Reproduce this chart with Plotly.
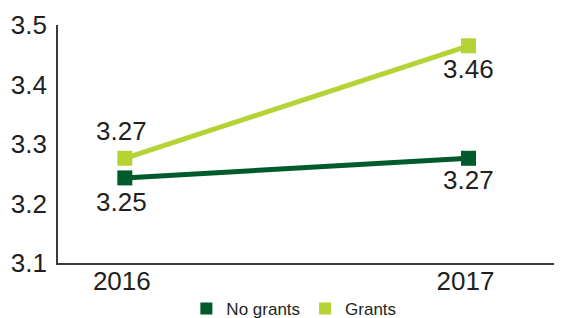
import plotly.graph_objects as go

years = ["2016", "2017"]
no_grants = [3.243, 3.276]
grants = [3.276, 3.465]
no_grants_labels = ["3.25", "3.27"]
grants_labels = ["3.27", "3.46"]
y_ticks = [3.1, 3.2, 3.3, 3.4, 3.5]

dark = "#005a2b"
light = "#b5d334"
txt = "#231f20"
axis_col = "#3a3a3a"
font = "Liberation Sans, Arial, sans-serif"

xpos = list(range(len(years)))

fig = go.Figure()
fig.add_trace(go.Scatter(x=xpos, y=no_grants, mode="lines+markers", name="No grants",
                         line=dict(color=dark, width=5),
                         marker=dict(symbol="square", size=15, color=dark), showlegend=False))
fig.add_trace(go.Scatter(x=xpos, y=grants, mode="lines+markers", name="Grants",
                         line=dict(color=light, width=5),
                         marker=dict(symbol="square", size=15, color=light), showlegend=False))
# legend entries (square only)
fig.add_trace(go.Scatter(x=[None], y=[None], mode="markers", name="No grants",
                         marker=dict(symbol="square", size=12, color=dark)))
fig.add_trace(go.Scatter(x=[None], y=[None], mode="markers", name="Grants",
                         marker=dict(symbol="square", size=12, color=light)))

xshifts = [-3, 0]
anns = []
grants_yshift = [27, -23]
no_grants_yshift = [-24, -22]
for i in xpos:
    anns.append(dict(x=i, y=grants[i], text=grants_labels[i], showarrow=False,
                     xref="x", yref="y", yshift=grants_yshift[i], xshift=xshifts[i],
                     font=dict(size=26, color=txt, family=font)))
    anns.append(dict(x=i, y=no_grants[i], text=no_grants_labels[i], showarrow=False,
                     xref="x", yref="y", yshift=no_grants_yshift[i], xshift=xshifts[i],
                     font=dict(size=26, color=txt, family=font)))

fig.update_layout(
    width=554, height=310,
    margin=dict(l=50, r=0, t=17, b=55, autoexpand=False),
    paper_bgcolor="white", plot_bgcolor="white",
    font=dict(family=font, color=txt),
    annotations=anns,
    legend=dict(orientation="h", x=0.468, xanchor="center", y=-0.193, yanchor="middle",
                font=dict(size=17, color=txt, family=font),
                itemwidth=30, bgcolor="rgba(0,0,0,0)", borderwidth=0),
    xaxis=dict(range=[-0.1944, 1.272], tickvals=xpos, ticktext=years,
               showline=True, linecolor=axis_col, linewidth=1.7, showgrid=False,
               zeroline=False, ticks="", automargin=False, ticklabelshift=-3,
               ticklabelstandoff=-6,
               tickfont=dict(size=26, color=txt, family=font)),
    yaxis=dict(range=[3.1, 3.5], tickvals=y_ticks, ticktext=[f"{v:.1f}" for v in y_ticks],
               showline=True, linecolor=axis_col, linewidth=1.7, showgrid=False,
               zeroline=False, ticks="", automargin=False, ticklabelstandoff=4,
               tickfont=dict(size=26, color=txt, family=font)),
)

fig.write_html("out.html")
